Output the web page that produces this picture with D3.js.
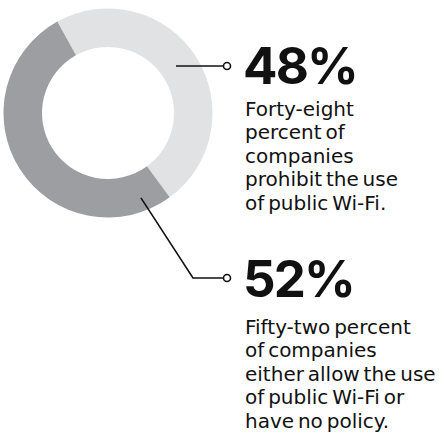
<!DOCTYPE html>
<html>
<head>
<meta charset="utf-8">
<script src="https://cdn.jsdelivr.net/npm/d3@7"></script>
<style>
  html, body { margin: 0; padding: 0; background: #ffffff; }
  svg { display: block; }
  .big { font-family: "Inter", "Liberation Sans", sans-serif; font-weight: 700; fill: #111111; }
  .body { font-family: "DejaVu Sans", "Inter", sans-serif; font-weight: 400; fill: #111111; }
</style>
</head>
<body>
<svg id="chart" width="439" height="434"></svg>
<script>
// Share of companies by public Wi-Fi policy
const categories = ["Prohibit public Wi-Fi", "Allow or no policy"];
const values = [48, 52];
const valueLabels = ["48%", "52%"];
const descriptions = [
  ["Forty-eight", "percent of", "companies", "prohibit the use", "of public Wi-Fi."],
  ["Fifty-two percent", "of companies", "either allow the use", "of public Wi-Fi or", "have no policy."]
];
const colors = ["#e1e2e3", "#9d9ea1"];

const svg = d3.select("#chart");
const cx = 108, cy = 113;
const outerR = 104.5, innerR = 66;
const startAngle = -29 * Math.PI / 180;

const pie = d3.pie().sort(null).value(d => d.value)
  .startAngle(startAngle).endAngle(startAngle + 2 * Math.PI);
const arcs = pie(categories.map((c, i) => ({ category: c, value: values[i] })));
const arc = d3.arc().innerRadius(innerR).outerRadius(outerR);

const g = svg.append("g").attr("transform", `translate(${cx},${cy})`);
g.selectAll("path.slice").data(arcs).join("path")
  .attr("class", "slice")
  .attr("d", arc)
  .attr("fill", (d, i) => colors[i]);

// Leader anchors: position along each slice (fraction of its sweep) and radius
const anchorFrac = [0.488, 0.08];
const anchorR = [82.7, 91];
const polar = (a, r) => [cx + r * Math.sin(a), cy - r * Math.cos(a)];

const dotX = 227;
const labelX = 245;
const bigBaseline = [84, 297];
const bodyFirstBaseline = [116, 334];
const lineStep = 23.4;
const elbowX = [null, 193];

arcs.forEach((d, i) => {
  const a = d.startAngle + (d.endAngle - d.startAngle) * anchorFrac[i];
  const [x0, y0] = polar(a, anchorR[i]);
  const dotY = i === 0 ? y0 : bigBaseline[i] - 19;
  const pts = i === 0 ? [[x0, y0], [dotX - 3.5, dotY]]
                      : [[x0, y0], [elbowX[i], dotY], [dotX - 3.5, dotY]];
  svg.append("path")
    .attr("d", d3.line()(pts))
    .attr("fill", "none").attr("stroke", "#111").attr("stroke-width", 1.6);
  svg.append("circle")
    .attr("cx", dotX).attr("cy", dotY).attr("r", 3.5)
    .attr("fill", "#fff").attr("stroke", "#111").attr("stroke-width", 1.6);

  svg.append("text").attr("class", "big")
    .attr("x", labelX - 2).attr("y", bigBaseline[i])
    .attr("font-size", 51).attr("letter-spacing", -1.8)
    .text(valueLabels[i]);

  const t = svg.append("text").attr("class", "body")
    .attr("font-size", 20).attr("word-spacing", -2.5);
  descriptions[i].forEach((line, j) => {
    t.append("tspan").attr("x", labelX).attr("y", bodyFirstBaseline[i] + j * lineStep).text(line);
  });
});
</script>
</body>
</html>
